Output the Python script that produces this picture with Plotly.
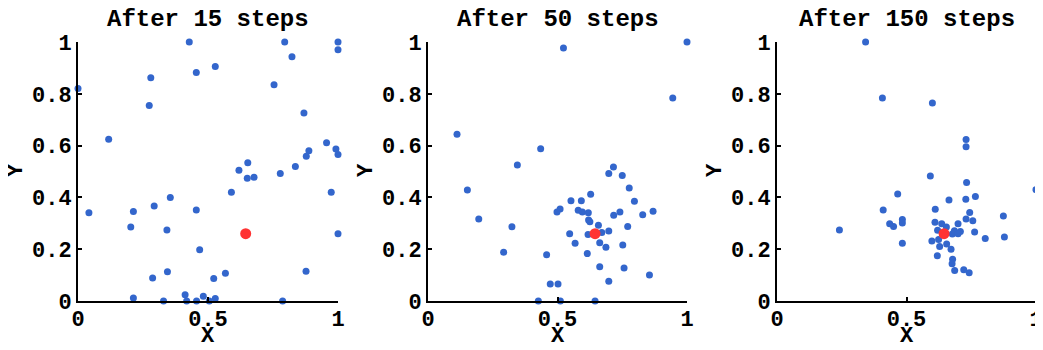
import plotly.graph_objects as go
from plotly.subplots import make_subplots

titles = ["After 15 steps", "After 50 steps", "After 150 steps"]
target_x = 0.645
target_y = 0.26

x15 = [0.0, 0.118, 0.28, 0.274, 0.428, 0.455, 0.528, 0.754, 0.795, 0.823, 0.869, 1.0, 1.0,
       0.956, 0.992, 1.0, 0.888, 0.878, 0.836, 0.653, 0.619, 0.651, 0.677, 0.778, 0.59,
       0.974, 0.042, 0.213, 0.293, 0.355, 0.455, 0.203, 0.342, 1.0, 0.468, 0.287, 0.344,
       0.522, 0.567, 0.877, 0.213, 0.412, 0.482, 0.528, 0.329, 0.418, 0.456, 0.505, 0.787]
y15 = [0.82, 0.625, 0.862, 0.755, 1.0, 0.882, 0.905, 0.835, 1.0, 0.943, 0.726, 1.0, 0.97,
       0.611, 0.587, 0.566, 0.58, 0.559, 0.519, 0.534, 0.505, 0.474, 0.478, 0.492, 0.42,
       0.42, 0.341, 0.346, 0.367, 0.4, 0.351, 0.286, 0.274, 0.26, 0.198, 0.089, 0.113,
       0.087, 0.107, 0.115, 0.012, 0.024, 0.018, 0.01, 0.0, 0.0, 0.0, 0.0, 0.0]

x50 = [0.112, 0.435, 0.523, 0.945, 1.0, 0.345, 0.716, 0.698, 0.75, 0.152, 0.777, 0.628,
       0.552, 0.592, 0.797, 0.51, 0.498, 0.58, 0.596, 0.619, 0.741, 0.869, 0.829, 0.717,
       0.196, 0.62, 0.625, 0.658, 0.771, 0.324, 0.547, 0.618, 0.671, 0.698, 0.568, 0.663,
       0.752, 0.687, 0.292, 0.615, 0.458, 0.663, 0.757, 0.855, 0.472, 0.502, 0.698, 0.426,
       0.511, 0.645]
y50 = [0.644, 0.588, 0.977, 0.784, 1.0, 0.525, 0.517, 0.492, 0.485, 0.429, 0.436, 0.412,
       0.387, 0.387, 0.385, 0.355, 0.344, 0.35, 0.344, 0.341, 0.344, 0.347, 0.333, 0.331,
       0.317, 0.313, 0.306, 0.292, 0.288, 0.287, 0.26, 0.257, 0.264, 0.27, 0.223, 0.225,
       0.216, 0.208, 0.188, 0.183, 0.179, 0.132, 0.127, 0.1, 0.066, 0.066, 0.076, 0.0,
       0.0, 0.0]

x150 = [0.342, 0.407, 0.6, 0.73, 0.73, 0.592, 0.732, 1.0, 0.466, 0.766, 0.729, 0.664,
        0.41, 0.611, 0.744, 0.874, 0.484, 0.73, 0.756, 0.484, 0.435, 0.45, 0.61, 0.636,
        0.699, 0.654, 0.62, 0.685, 0.708, 0.763, 0.677, 0.699, 0.241, 0.804, 0.878, 0.598,
        0.624, 0.484, 0.655, 0.628, 0.672, 0.619, 0.678, 0.676, 0.686, 0.721, 0.742]
y150 = [1.0, 0.784, 0.764, 0.624, 0.596, 0.483, 0.458, 0.43, 0.413, 0.403, 0.393, 0.39,
        0.351, 0.354, 0.342, 0.328, 0.315, 0.317, 0.31, 0.301, 0.298, 0.288, 0.304, 0.298,
        0.298, 0.286, 0.273, 0.271, 0.268, 0.266, 0.259, 0.26, 0.274, 0.241, 0.247, 0.232,
        0.237, 0.223, 0.22, 0.21, 0.2, 0.175, 0.161, 0.144, 0.118, 0.121, 0.109]

series = [(x15, y15), (x50, y50), (x150, y150)]

BLUE = "#3366CC"
RED = "#FF3333"
FONT = "Liberation Mono"

# the page body has an 8px margin, so the figure is drawn 8px in and 8px down
OFF = 8
W, H = 1043 - OFF, 350 - OFF

fig = make_subplots(rows=1, cols=3)


def px_x(v):
    return (v - OFF) / W


def px_y(v):
    return (H - (v - OFF)) / H


# plot areas in screen pixels
x_px = [(78, 338), (428, 687), (777, 1036)]
top_px, bottom_px = 42, 301
y_domain = [px_y(bottom_px), px_y(top_px)]

for i, (xs, ys) in enumerate(series):
    col = i + 1
    dom = [px_x(x_px[i][0]), px_x(x_px[i][1])]
    fig.add_trace(go.Scatter(x=xs, y=ys, mode="markers",
                             marker=dict(color=BLUE, size=7),
                             cliponaxis=False, showlegend=False), row=1, col=col)
    fig.add_trace(go.Scatter(x=[target_x], y=[target_y], mode="markers",
                             marker=dict(color=RED, size=11),
                             cliponaxis=False, showlegend=False), row=1, col=col)
    axis_common = dict(range=[0, 1], showgrid=False, zeroline=False, showline=True,
                       linecolor="black", linewidth=2, ticks="inside", ticklen=4,
                       tickwidth=1.5, tickcolor="black", automargin=False,
                       tickfont=dict(family=FONT, size=22, color="black", weight="bold"))
    fig.update_xaxes(axis_common, domain=dom, tickvals=[0, 0.5, 1], ticklabelstandoff=-3,
                     row=1, col=col)
    fig.update_yaxes(axis_common, domain=y_domain, tickvals=[0, 0.2, 0.4, 0.6, 0.8, 1],
                     row=1, col=col)
    mid = sum(dom) / 2
    fig.add_annotation(text="<b>" + titles[i] + "</b>", xref="paper", yref="paper",
                       x=mid, y=px_y(19), showarrow=False,
                       xanchor="center", yanchor="middle",
                       font=dict(family=FONT, size=24, color="black"))
    fig.add_annotation(text="<b>X</b>", xref="paper", yref="paper",
                       x=mid, y=px_y(336), showarrow=False,
                       xanchor="center", yanchor="middle",
                       font=dict(family=FONT, size=22, color="black"))
    fig.add_annotation(text="<b>Y</b>", xref="paper", yref="paper",
                       x=px_x(x_px[i][0] - 62), y=px_y(170), showarrow=False,
                       xanchor="center", yanchor="middle", textangle=-90,
                       font=dict(family=FONT, size=22, color="black"))

fig.update_layout(width=W, height=H, margin=dict(l=0, r=0, t=0, b=0),
                  plot_bgcolor="white", paper_bgcolor="white")

fig.write_html("out.html")
